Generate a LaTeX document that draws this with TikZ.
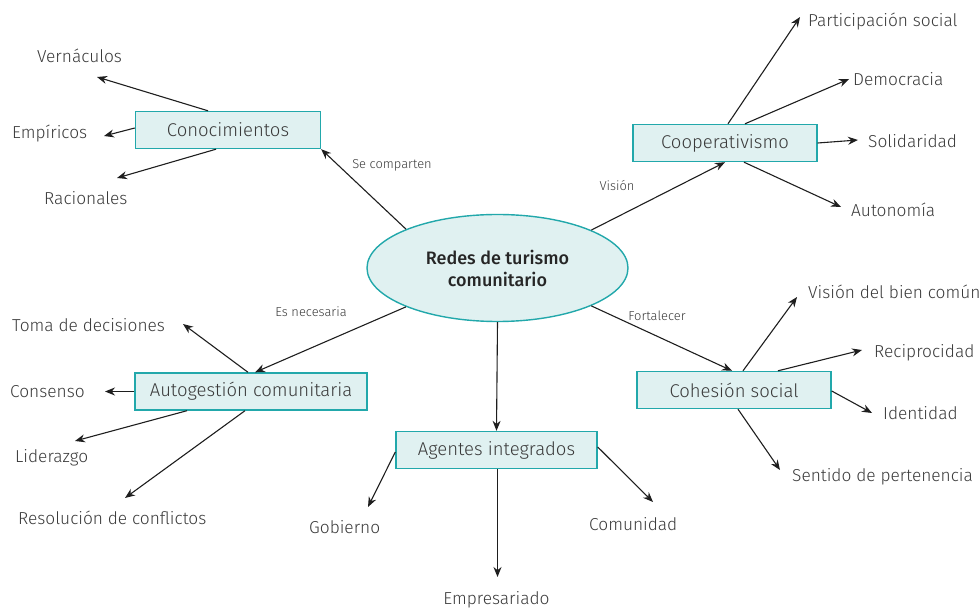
\documentclass[tikz,border=0pt]{standalone}
\usepackage{fontspec}
\setmainfont{Fira Sans Light}[BoldFont={Fira Sans Medium}]
\usetikzlibrary{arrows.meta,shapes.geometric}
\definecolor{tealb}{HTML}{22A8AB}
\definecolor{tealf}{HTML}{E0F1F1}
\definecolor{txt}{HTML}{3A3A3A}
\definecolor{arrc}{HTML}{1E1E1E}
\begin{document}
\begin{tikzpicture}[x=1pt,y=-1pt,
  box/.style={draw=tealb,fill=tealf,line width=1.4pt,minimum height=37pt,inner sep=0pt,text=txt,font=\fontsize{18.5}{22}\selectfont},
  hub/.style={ellipse,draw=tealb,fill=tealf,line width=1.4pt,minimum width=261pt,minimum height=107pt,inner sep=0pt,text=black!85,align=center,font=\bfseries\fontsize{18}{22}\selectfont},
  leaf/.style={text=txt,inner sep=4pt,anchor=west,font=\fontsize{17.3}{20}\selectfont},
  lbl/.style={text=txt,inner sep=0pt,font=\fontsize{12.9}{15}\selectfont},
  arr/.style={draw=arrc,line width=1.1pt,-{Stealth[length=10pt,width=8pt]}}]
\path[use as bounding box] (0,0) rectangle (980,609);
% hub and boxes
\node[hub] (c) at (497.5,268) {Redes de turismo\\comunitario};
\node[box,minimum width=185pt] (con) at (228,130) {Conocimientos};
\node[box,minimum width=184pt] (coop) at (725,143) {Cooperativismo};
\node[box,minimum width=232pt] (auto) at (251,391.5) {Autogestión comunitaria};
\node[box,minimum width=201pt] (ag) at (496.5,450) {Agentes integrados};
\node[box,minimum width=194pt] (coh) at (734,390) {Cohesión social};
% leaves (anchored at their left edge)
\node[leaf] (vern) at (33,56) {Vernáculos};
\node[leaf] (empi) at (8,134) {Empíricos};
\node[leaf] (rac) at (40,198) {Racionales};
\node[leaf] (part) at (804,22) {Participación social};
\node[leaf] (demo) at (849,79) {Democracia};
\node[leaf] (soli) at (864,141) {Solidaridad};
\node[leaf] (autn) at (847,210) {Autonomía};
\node[leaf] (toma) at (8,325) {Toma de decisiones};
\node[leaf] (cons) at (6,391.5) {Consenso};
\node[leaf] (lid) at (11,458) {Liderazgo};
\node[leaf] (reso) at (14,518) {Resolución de conflictos};
\node[leaf] (gob) at (305,527) {Gobierno};
\node[leaf,anchor=center] (empr) at (496.5,600) {Empresariado};
\node[leaf] (com) at (585,524) {Comunidad};
\node[leaf] (vis) at (804,292) {Visión del bien común};
\node[leaf] (rec) at (870,353) {Reciprocidad};
\node[leaf] (iden) at (879,413) {Identidad};
\node[leaf] (sent) at (788,477) {Sentido de pertenencia};
% edge labels
\node[lbl] (l1) at (392,165) {Se comparten};
\node[lbl] (l2) at (617,186) {Visión};
\node[lbl] (l3) at (311,312) {Es necesaria};
\node[lbl] (l4) at (657,316) {Fortalecer};
% hub connectors
\draw[arr] (c.157) -- (con.south east);
\draw[arr] (c.22) -- (coop.south);
\draw[arr] (c.203) -- ([xshift=4pt]auto.north);
\draw[arr] (c.south) -- (ag.north);
\draw[arr] (c.338) -- ([xshift=-2pt]coh.north);
% Conocimientos
\draw[arr] ([xshift=-20pt]con.north) -- ([xshift=64pt,yshift=-21pt]vern.west);
\draw[arr] ([yshift=2pt]con.west) -- ([xshift=96pt,yshift=-2pt]empi.west);
\draw[arr] ([xshift=-12pt]con.south) -- ([xshift=77pt,yshift=20pt]rac.west);
% Cooperativismo
\draw[arr] ([xshift=3pt]coop.north) -- ([xshift=-4pt,yshift=5pt]part.west);
\draw[arr] ([xshift=20pt]coop.north) -- (demo.west);
\draw[arr] (coop.east) -- ([xshift=-6pt,yshift=1pt]soli.west);
\draw[arr] ([xshift=19pt]coop.south) -- ([xshift=-6pt,yshift=3pt]autn.west);
% Autogestion
\draw[arr] ([xshift=-3pt]auto.north) -- ([xshift=175pt,yshift=1pt]toma.west);
\draw[arr] (auto.west) -- ([xshift=99pt]cons.west);
\draw[arr] ([xshift=-64pt]auto.south) -- ([xshift=64pt,yshift=17pt]lid.west);
\draw[arr] ([xshift=-6pt]auto.south) -- ([xshift=111pt,yshift=20pt]reso.west);
% Agentes
\draw[arr] ([yshift=-2pt]ag.west) -- ([xshift=63pt,yshift=20pt]gob.west);
\draw[arr] ([xshift=1pt]ag.south) -- ([xshift=1pt,yshift=23pt]empr.center);
\draw[arr] ([yshift=3pt]ag.east) -- ([xshift=68pt,yshift=22pt]com.west);
% Cohesion
\draw[arr] ([xshift=9pt]coh.north) -- ([xshift=-7pt,yshift=-5pt]vis.west);
\draw[arr] ([xshift=44pt]coh.north) -- ([xshift=-8pt,yshift=3pt]rec.west);
\draw[arr] ([yshift=-1pt]coh.east) -- ([xshift=-7pt]iden.west);
\draw[arr] ([xshift=4pt]coh.south) -- ([xshift=-8pt,yshift=7pt]sent.west);
\end{tikzpicture}
\end{document}
